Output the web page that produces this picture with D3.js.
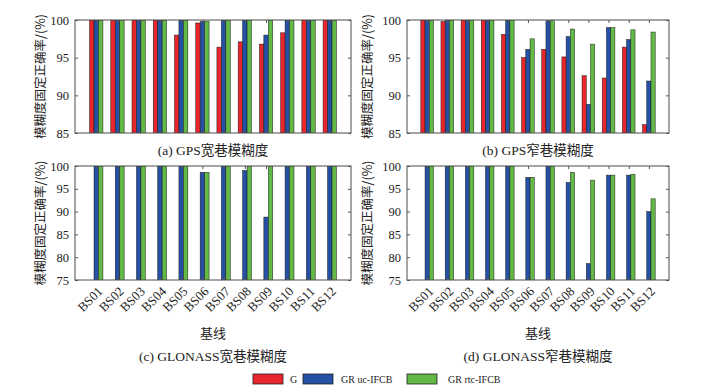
<!DOCTYPE html>
<html><head><meta charset="utf-8">
<script src="https://cdn.jsdelivr.net/npm/d3@7/dist/d3.min.js"></script>
<style>body{margin:0;background:#fff}svg{display:block}</style>
</head><body><svg id="c" width="709" height="391"></svg>
<script>
const categories = ["BS01","BS02","BS03","BS04","BS05","BS06","BS07","BS08","BS09","BS10","BS11","BS12"];
const seriesNames = ["G","GR uc-IFCB","GR rtc-IFCB"];
const seriesColors = ["#e8262b","#2451a6","#62b946"];
// (a) GPS wide lane
const gpsWL_G    = [100,100,100,100,98.0,99.6,96.4,97.1,96.8,98.3,100,100];
const gpsWL_uc   = [100,100,100,100,100,99.8,100,100,98.0,100,100,100];
const gpsWL_rtc  = [100,100,100,100,100,99.8,100,100,100,100,100,100];
// (b) GPS narrow lane
const gpsNL_G    = [100,99.8,100,100,98.1,95.0,96.1,95.1,92.6,92.3,96.4,86.1];
const gpsNL_uc   = [100,100,100,100,100,96.1,99.9,97.8,88.8,99.0,97.4,91.9];
const gpsNL_rtc  = [100,100,100,100,100,97.5,99.9,98.8,96.8,99.0,98.7,98.4];
// (c) GLONASS wide lane
const gloWL_G    = [null,null,null,null,null,null,null,null,null,null,null,null];
const gloWL_uc   = [100,100,100,100,100,98.6,100,99.0,88.8,100,100,100];
const gloWL_rtc  = [100,100,100,100,100,98.6,100,100,100,100,100,100];
// (d) GLONASS narrow lane
const gloNL_G    = [null,null,null,null,null,null,null,null,null,null,null,null];
const gloNL_uc   = [100,100,100,100,100,97.5,100,96.4,78.6,98.0,98.0,90.0];
const gloNL_rtc  = [100,100,100,100,100,97.5,100,98.6,96.9,98.0,98.2,92.8];
const topTicks = [85,90,95,100];
const botTicks = [75,80,85,90,95,100];
const yLabel = "模糊度固定正确率/(%)";
const xLabel = "基线";
const titles = ["(a) GPS宽巷模糊度","(b) GPS窄巷模糊度","(c) GLONASS宽巷模糊度","(d) GLONASS窄巷模糊度"];

const svg = d3.select("#c");
const serif = "'Liberation Serif','Times New Roman','Noto Sans CJK SC',serif";
const cjk = "'Noto Sans CJK SC','Liberation Serif',sans-serif";

const panels = [
  {x0:75, x1:351, y0:20, y1:133, dom:[85,100], ticks:topTicks, data:[gpsWL_G,gpsWL_uc,gpsWL_rtc], title:titles[0], xl:false, lab:-33},
  {x0:407, x1:669, y0:20, y1:133, dom:[85,100], ticks:topTicks, data:[gpsNL_G,gpsNL_uc,gpsNL_rtc], title:titles[1], xl:false, lab:-38},
  {x0:75, x1:351, y0:166, y1:280, dom:[75,100], ticks:botTicks, data:[gloWL_G,gloWL_uc,gloWL_rtc], title:titles[2], xl:true, lab:-33},
  {x0:407, x1:669, y0:166, y1:280, dom:[75,100], ticks:botTicks, data:[gloNL_G,gloNL_uc,gloNL_rtc], title:titles[3], xl:true, lab:-38}
];

panels.forEach((p,pi)=>{
  const x = d3.scaleLinear().domain([0,13]).range([p.x0,p.x1]);
  const y = d3.scaleLinear().domain(p.dom).range([p.y1,p.y0]);
  const step = x(1)-x(0);
  const bw = step*0.21;
  const g = svg.append("g");
  const cid = "clip"+pi;
  svg.append("clipPath").attr("id",cid).append("rect")
    .attr("x",p.x0).attr("y",p.y0).attr("width",p.x1-p.x0).attr("height",p.y1-p.y0);
  const bars = g.append("g").attr("clip-path",`url(#${cid})`);
  p.data.forEach((arr,si)=>{
    bars.selectAll(null).data(arr.map((v,i)=>({v,i})).filter(d=>d.v!=null))
      .enter().append("rect")
      .attr("x",d=>x(d.i+1)+(si-1.5)*bw)
      .attr("width",bw)
      .attr("y",d=>y(d.v))
      .attr("height",d=>p.y1-y(d.v)+2)
      .attr("fill",seriesColors[si])
      .attr("stroke","#1a1a1a").attr("stroke-width",0.5);
  });
  g.append("rect").attr("x",p.x0).attr("y",p.y0).attr("width",p.x1-p.x0).attr("height",p.y1-p.y0)
    .attr("fill","none").attr("stroke","#4d4d4d").attr("stroke-width",1);
  const ya = d3.axisLeft(y).tickValues(p.ticks).tickSizeInner(-3).tickSizeOuter(0).tickPadding(6);
  const yg = g.append("g").attr("transform",`translate(${p.x0},0)`).call(ya);
  yg.select(".domain").remove();
  yg.selectAll("line").attr("stroke","#555");
  yg.selectAll("text").attr("font-family",serif).attr("font-size",12.5).attr("fill","#222");
  const yr = d3.axisRight(y).tickValues(p.ticks).tickSizeInner(-3).tickSizeOuter(0).tickFormat("");
  const yrg = g.append("g").attr("transform",`translate(${p.x1},0)`).call(yr);
  yrg.select(".domain").remove(); yrg.selectAll("line").attr("stroke","#555");
  const xv = d3.range(1,13);
  const xb = d3.axisBottom(x).tickValues(xv).tickSizeInner(-3).tickSizeOuter(0).tickFormat("");
  const xbg = g.append("g").attr("transform",`translate(0,${p.y1})`).call(xb);
  xbg.select(".domain").remove(); xbg.selectAll("line").attr("stroke","#555");
  const xt = d3.axisTop(x).tickValues(xv).tickSizeInner(-3).tickSizeOuter(0).tickFormat("");
  const xtg = g.append("g").attr("transform",`translate(0,${p.y0})`).call(xt);
  xtg.select(".domain").remove(); xtg.selectAll("line").attr("stroke","#555");
  if(p.xl){
    g.selectAll(null).data(categories).enter().append("text")
      .attr("transform",(d,i)=>`translate(${x(i+1)+5},${p.y1+10}) rotate(-45)`)
      .attr("text-anchor","end").attr("dominant-baseline","middle")
      .attr("font-family",serif).attr("font-size",13).attr("fill","#222").text(d=>d);
    g.append("text").attr("x",(p.x0+p.x1)/2).attr("y",338).attr("text-anchor","middle")
      .attr("font-family",cjk).attr("font-size",13).attr("fill","#222").text(xLabel);
  }
  g.append("text").attr("transform",`translate(${p.x0+p.lab},${(p.y0+p.y1)/2}) rotate(-90)`)
    .attr("text-anchor","middle").attr("dominant-baseline","middle")
    .attr("font-family",cjk).attr("font-size",12.5).attr("fill","#222").text(yLabel);
  g.append("text").attr("x",(p.x0+p.x1)/2).attr("y",p.xl?361:155).attr("text-anchor","middle")
    .attr("font-family",serif).attr("font-size",13.5).attr("fill","#222").text(p.title);
});

const lg = svg.append("g");
const lx = [253,303,407];
const tx = [290,341,448];
seriesNames.forEach((n,i)=>{
  lg.append("rect").attr("x",lx[i]).attr("y",374).attr("width",30).attr("height",10)
    .attr("fill",seriesColors[i]).attr("stroke","#222").attr("stroke-width",0.8);
  lg.append("text").attr("x",tx[i]).attr("y",383).attr("font-family",serif).attr("font-size",10)
    .attr("fill","#222").text(n);
});
</script></body></html>
